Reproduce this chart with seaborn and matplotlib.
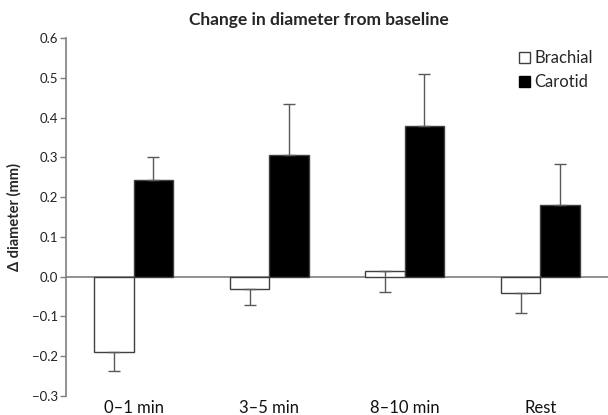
import matplotlib
matplotlib.use('Agg')
import matplotlib.pyplot as plt
import seaborn as sns
import pandas as pd
import numpy as np
from matplotlib.patches import Patch

categories = ['0\u20131 min', '3\u20135 min', '8\u201310 min', 'Rest']
brachial = [-0.190, -0.030, 0.015, -0.040]
brachial_err = [0.046, 0.042, 0.054, 0.052]
carotid = [0.242, 0.307, 0.379, 0.181]
carotid_err = [0.060, 0.126, 0.131, 0.101]

sns.set_style('white')
plt.rcParams['font.family'] = ['Lato', 'DejaVu Sans']
plt.rcParams['axes.unicode_minus'] = True

df = pd.DataFrame({
    'period': categories * 2,
    'series': ['Brachial'] * 4 + ['Carotid'] * 4,
    'value': brachial + carotid,
})

fig = plt.figure(figsize=(6.08, 4.15), dpi=100)
ax = fig.add_axes([0.1086, 0.0458, 0.8914, 0.8626])

sns.barplot(data=df, x='period', y='value', hue='series', order=categories,
            hue_order=['Brachial', 'Carotid'], palette=['white', 'black'],
            width=0.58, errorbar=None, edgecolor='#404040', linewidth=1.0,
            legend=False, ax=ax)

grey = '#595959'
patches = ax.patches
b_x = [p.get_x() + p.get_width() / 2 for p in patches[:4]]
c_x = [p.get_x() + p.get_width() / 2 for p in patches[4:8]]
ax.errorbar(b_x, brachial, yerr=[brachial_err, [0] * 4], fmt='none',
            ecolor=grey, elinewidth=1.0, capsize=4, capthick=1.0, zorder=3)
ax.errorbar(c_x, carotid, yerr=[[0] * 4, carotid_err], fmt='none',
            ecolor=grey, elinewidth=1.0, capsize=4, capthick=1.0, zorder=3)

ax.axhline(0, color='#7f7f7f', lw=1.2, zorder=0.5)

ax.set_xlim(-0.5, 3.5)
ax.set_ylim(-0.3, 0.6)
ax.set_yticks(np.arange(-0.3, 0.61, 0.1))
ax.yaxis.set_major_formatter(matplotlib.ticker.FuncFormatter(
    lambda v, p: ('%.1f' % v).replace('-', '\u2212')))
ax.tick_params(axis='y', direction='out', length=4, width=1, color='#7f7f7f',
               labelsize=9.5, labelcolor='#222222', left=True, pad=2)
ax.tick_params(axis='x', length=0, labelsize=12, pad=3, labelcolor='#111111')
ax.set_xlabel('')
ax.set_ylabel('\u0394 diameter (mm)', fontsize=10.5, fontweight='bold', labelpad=7)

for s in ['top', 'right', 'bottom']:
    ax.spines[s].set_visible(False)
ax.spines['left'].set_color('#7f7f7f')
ax.spines['left'].set_linewidth(1.2)

handles = [Patch(facecolor='white', edgecolor='#404040', lw=1.0),
           Patch(facecolor='black', edgecolor='black')]
ax.legend(handles, ['Brachial', 'Carotid'], loc='upper right',
          bbox_to_anchor=(1.0, 1.008), frameon=False, fontsize=12,
          handlelength=0.65, handleheight=0.65, handletextpad=0.25, labelspacing=0.5)

fig.text(319 / 608, 1 - 20 / 415, 'Change in diameter from baseline',
         ha='center', va='center', fontsize=12.5, fontweight='bold')

fig.savefig('out.png', dpi=100)
